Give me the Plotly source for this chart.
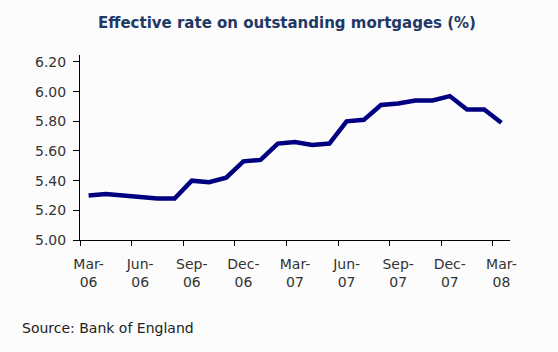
import plotly.graph_objects as go

months = ["Mar-06", "Apr-06", "May-06", "Jun-06", "Jul-06", "Aug-06", "Sep-06", "Oct-06",
          "Nov-06", "Dec-06", "Jan-07", "Feb-07", "Mar-07", "Apr-07", "May-07", "Jun-07",
          "Jul-07", "Aug-07", "Sep-07", "Oct-07", "Nov-07", "Dec-07", "Jan-08", "Feb-08", "Mar-08"]
rates = [5.30, 5.31, 5.30, 5.29, 5.28, 5.28, 5.40, 5.39, 5.42, 5.53, 5.54, 5.65, 5.66,
         5.64, 5.65, 5.80, 5.81, 5.91, 5.92, 5.94, 5.94, 5.97, 5.88, 5.88, 5.79]
tick_labels = ["Mar-<br>06", "Jun-<br>06", "Sep-<br>06", "Dec-<br>06", "Mar-<br>07",
               "Jun-<br>07", "Sep-<br>07", "Dec-<br>07", "Mar-<br>08"]
y_ticks = [5.00, 5.20, 5.40, 5.60, 5.80, 6.00, 6.20]

x = list(range(len(months)))
label_pos = x[::3]
boundary_pos = [p - 0.5 for p in label_pos]

font = "DejaVu Sans, Verdana, sans-serif"
fig = go.Figure()
fig.add_trace(go.Scatter(x=x, y=rates, mode="lines", text=months,
                         line=dict(color="#000080", width=4.5), hoverinfo="text+y"))

fig.update_layout(
    width=558, height=352,
    margin=dict(l=80, r=48, t=55, b=112),
    paper_bgcolor="#FCFCFC", plot_bgcolor="#FCFCFC",
    showlegend=False,
    font=dict(family=font, size=14, color="#333333"),
    xaxis=dict(range=[-0.5, len(months) - 0.5], tickmode="array", tickvals=label_pos,
               ticktext=tick_labels, ticks="", showgrid=False, zeroline=False,
               showline=True, linecolor="#000000", linewidth=1, ticklabelstandoff=11,
               minor=dict(tickmode="array", tickvals=boundary_pos, ticks="outside",
                          ticklen=5, tickcolor="#000000", tickwidth=1, showgrid=False)),
    yaxis=dict(range=[5.0, 6.247], tickmode="array", tickvals=y_ticks,
               ticktext=[f"{v:.2f}" for v in y_ticks], ticks="outside", ticklen=6,
               tickcolor="#000000", showgrid=False, zeroline=False, ticklabelstandoff=4,
               showline=True, linecolor="#000000", linewidth=1),
    annotations=[
        dict(text="<b>Effective rate on outstanding mortgages (%)</b>", xref="paper", yref="paper",
             x=(286.5 - 80) / 430, y=1 + (55 - 23) / 185,
             xanchor="center", yanchor="middle", showarrow=False,
             font=dict(family=font, size=15, color="#1F3864")),
        dict(text="Source: Bank of England", xref="paper", yref="paper",
             x=(20 - 80) / 430, y=1 - (328 - 55) / 185, xanchor="left", yanchor="middle",
             showarrow=False, font=dict(family=font, size=14, color="#222222")),
    ],
)
fig.write_html("out.html")
